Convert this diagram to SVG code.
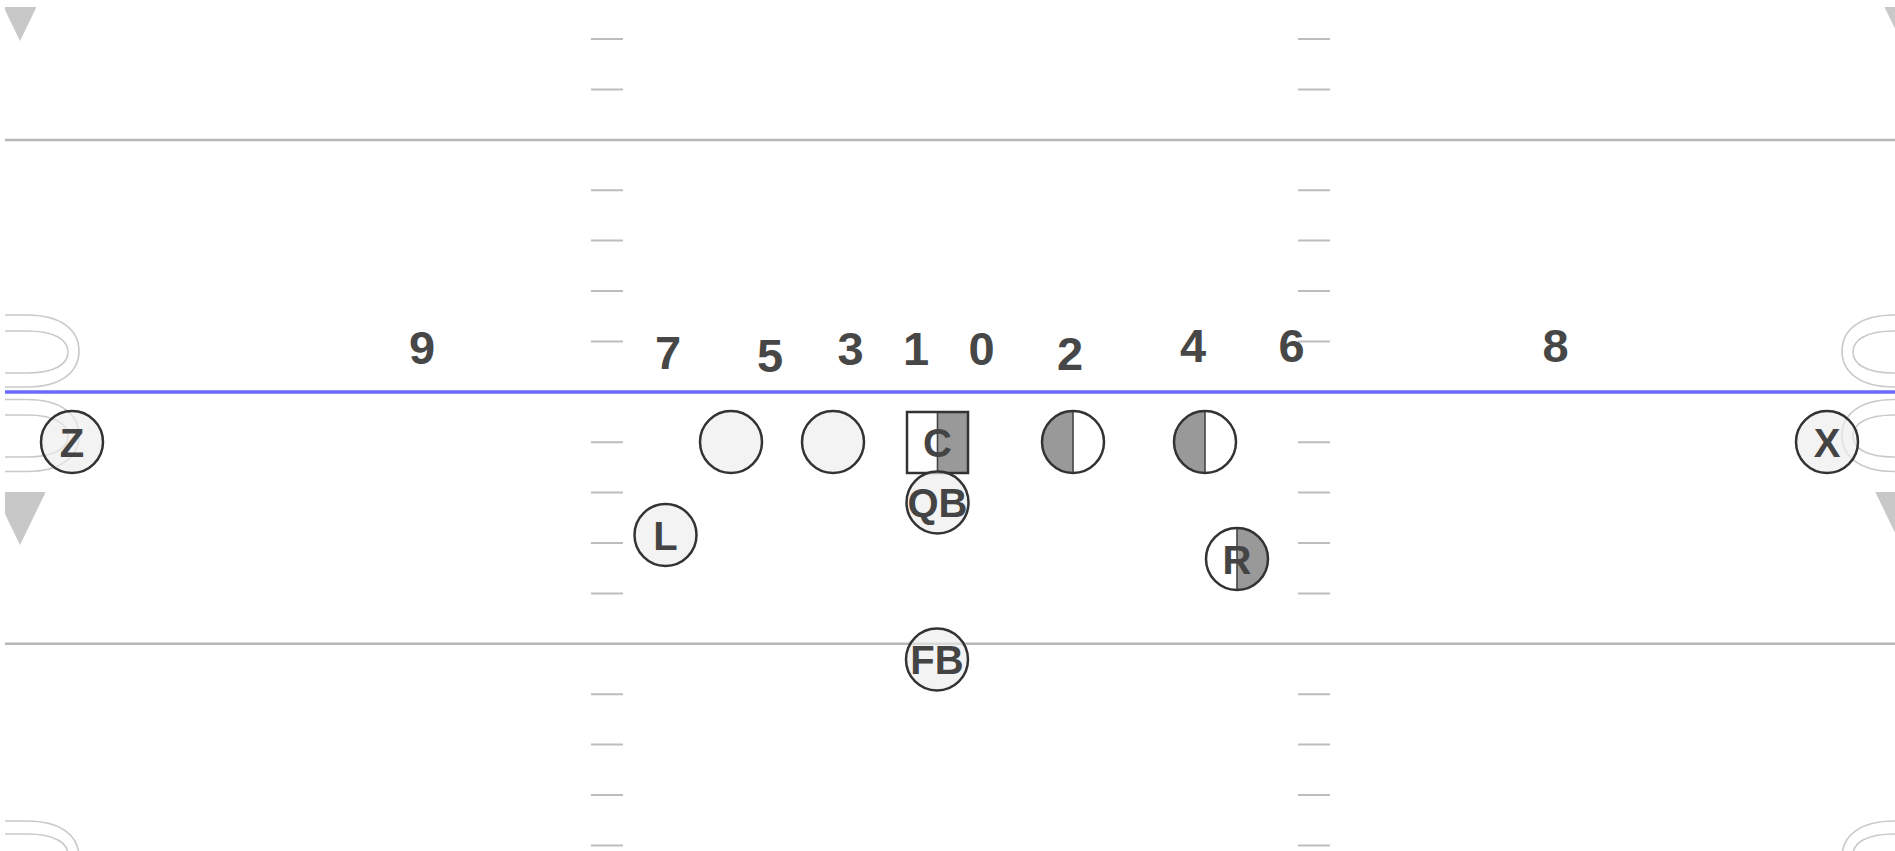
<svg xmlns="http://www.w3.org/2000/svg" width="1895" height="851" viewBox="0 0 1895 851">
<style>
.hash{stroke:#bdbdbd;stroke-width:2}
.yard{stroke:#b8b8b8;stroke-width:2.5}
.los{stroke:#6a6aff;stroke-width:3.5}
.oval{fill:none;stroke:#c9c9c9;stroke-width:1.6}
.tri{fill:#c8c8c8}
.num{font-family:"Liberation Sans",Arial,sans-serif;font-weight:bold;font-size:47px;fill:#474747;text-anchor:middle}
.lbl{font-family:"Liberation Sans",Arial,sans-serif;font-weight:bold;font-size:40px;fill:#444;text-anchor:middle}
.pc{fill:#ececec;fill-opacity:0.65;stroke:#333;stroke-width:2.5}
.ring{fill:none;stroke:#333;stroke-width:2.5}
.white{fill:#fff}
.gray{fill:#999}
.div{stroke:#444;stroke-width:1.6}
</style>
<defs>
<clipPath id="field"><rect x="5" y="7" width="1911" height="900"/></clipPath>
<path id="ovOut" d="M0 -36H22C56 -36 74 -21 74 0C74 21 56 36 22 36H0"/>
<path id="ovIn" d="M0 -21H22C50 -21 63 -12 63 0C63 12 50 21 22 21H0"/>
</defs>
<rect width="1895" height="851" fill="#fff"/>
<g id="field" clip-path="url(#field)">
<g id="hashes">
<path class="hash" d="M591 39h32M591 89.4h32M591 190.2h32M591 240.6h32M591 291h32M591 341.4h32M591 442.2h32M591 492.6h32M591 543h32M591 593.4h32M591 694.2h32M591 744.6h32M591 795h32M591 845.4h32"/>
<path class="hash" d="M1298 39h32M1298 89.4h32M1298 190.2h32M1298 240.6h32M1298 291h32M1298 341.4h32M1298 442.2h32M1298 492.6h32M1298 543h32M1298 593.4h32M1298 694.2h32M1298 744.6h32M1298 795h32M1298 845.4h32"/>
</g>
<path class="yard" d="M5 140H1916M5 643.8H1916"/>
<g id="ovals">
<use href="#ovOut" class="oval" transform="translate(5 351)"/>
<use href="#ovIn" class="oval" transform="translate(5 352)"/>
<use href="#ovOut" class="oval" transform="translate(5 435.5)"/>
<use href="#ovIn" class="oval" transform="translate(5 436)"/>
<use href="#ovOut" class="oval" transform="translate(5 857)"/>
<use href="#ovIn" class="oval" transform="translate(5 855)"/>
<use href="#ovOut" class="oval" transform="translate(1916 351) scale(-1 1)"/>
<use href="#ovIn" class="oval" transform="translate(1916 352) scale(-1 1)"/>
<use href="#ovOut" class="oval" transform="translate(1916 435.5) scale(-1 1)"/>
<use href="#ovIn" class="oval" transform="translate(1916 436) scale(-1 1)"/>
<use href="#ovOut" class="oval" transform="translate(1916 857) scale(-1 1)"/>
<use href="#ovIn" class="oval" transform="translate(1916 855) scale(-1 1)"/>
</g>
<g id="markers">
<polygon class="tri" points="-5.7,-12 45.7,-12 20,41"/>
<polygon class="tri" points="-5.7,492 45.7,492 20,545"/>
<polygon class="tri" points="1875.3,-12 1926.7,-12 1901,41"/>
<polygon class="tri" points="1875.3,492 1926.7,492 1901,545"/>
</g>
<line class="los" x1="5" y1="392" x2="1916" y2="392"/>
</g>
<g id="holes">
<text class="num" x="422" y="364">9</text>
<text class="num" x="668" y="369">7</text>
<text class="num" x="770" y="372">5</text>
<text class="num" x="850.5" y="365">3</text>
<text class="num" x="916" y="365">1</text>
<text class="num" x="981.5" y="365">0</text>
<text class="num" x="1070" y="370">2</text>
<text class="num" x="1193" y="362">4</text>
<text class="num" x="1291.5" y="362">6</text>
<text class="num" x="1555.5" y="362">8</text>
</g>
<g id="connectors"/>
<g id="player-Z"><circle class="pc" cx="72" cy="442" r="31"/><text class="lbl" x="72" y="456.5">Z</text></g>
<g id="player-LG"><circle class="pc" cx="731" cy="442" r="31"/></g>
<g id="player-LT"><circle class="pc" cx="833" cy="442" r="31"/></g>
<g id="player-C">
<rect class="white" x="907" y="412" width="30.5" height="61"/>
<rect class="gray" x="937.5" y="412" width="30.5" height="61"/>
<line class="div" x1="937.5" y1="412" x2="937.5" y2="473"/>
<rect class="ring" x="907" y="412" width="61" height="61"/>
<text class="lbl" x="937.5" y="457">C</text>
</g>
<g id="player-RG">
<circle class="white" cx="1073" cy="442" r="31"/>
<path class="gray" d="M1073 411A31 31 0 0 0 1073 473Z"/>
<line class="div" x1="1073" y1="411" x2="1073" y2="473"/>
<circle class="ring" cx="1073" cy="442" r="31"/>
</g>
<g id="player-RT">
<circle class="white" cx="1205" cy="442" r="31"/>
<path class="gray" d="M1205 411A31 31 0 0 0 1205 473Z"/>
<line class="div" x1="1205" y1="411" x2="1205" y2="473"/>
<circle class="ring" cx="1205" cy="442" r="31"/>
</g>
<g id="player-X"><circle class="pc" cx="1827" cy="442" r="31"/><text class="lbl" x="1827" y="456.5">X</text></g>
<g id="player-QB"><circle class="pc" cx="937.5" cy="502.5" r="31"/><text class="lbl" x="937.5" y="517">QB</text></g>
<g id="player-L"><circle class="pc" cx="665.5" cy="535" r="31"/><text class="lbl" x="665.5" y="549.5">L</text></g>
<g id="player-R">
<circle class="white" cx="1237" cy="559" r="31"/>
<path class="gray" d="M1237 528A31 31 0 0 1 1237 590Z"/>
<line class="div" x1="1237" y1="528" x2="1237" y2="590"/>
<circle class="ring" cx="1237" cy="559" r="31"/>
<text class="lbl" x="1237" y="573.5">R</text>
</g>
<g id="player-FB"><circle class="pc" cx="937" cy="659.5" r="31"/><text class="lbl" x="937" y="674">FB</text></g>
</svg>
